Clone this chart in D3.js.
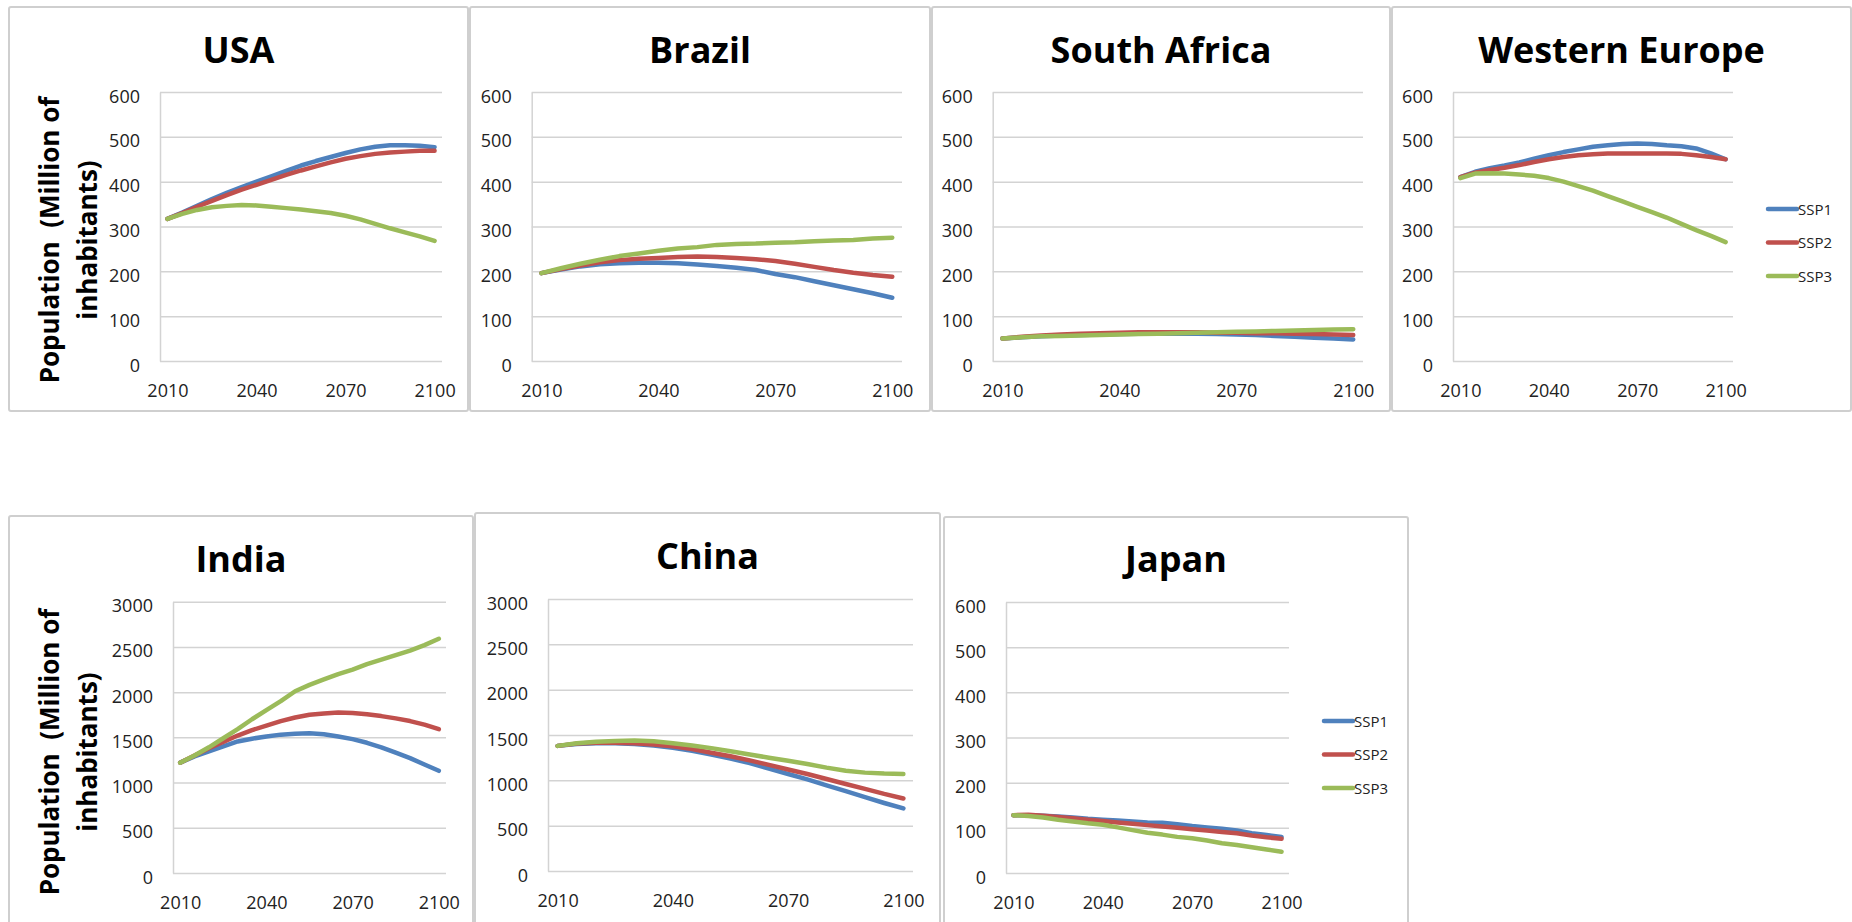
<!DOCTYPE html>
<html><head><meta charset="utf-8">
<script src="https://cdn.jsdelivr.net/npm/d3@7"></script>
<style>
body{margin:0;background:#fff;}
svg{display:block;font-family:"Open Sans",sans-serif;}
</style></head><body>
<svg id="c" width="1852" height="922"></svg>
<script>
// ---------- data ----------
const years = [2010,2015,2020,2025,2030,2035,2040,2045,2050,2055,2060,2065,2070,2075,2080,2085,2090,2095,2100];
const xTickLabels = [2010,2040,2070,2100];
const yTicksSmall = [0,100,200,300,400,500,600];
const yTicksLarge = [0,500,1000,1500,2000,2500,3000];
const seriesNames = ["SSP1","SSP2","SSP3"];
const seriesColors = ["#4F81BD","#C0504D","#9BBB59"];
const countries = ["USA","Brazil","South Africa","Western Europe","India","China","Japan"];
const yAxisTitle = ["Population  (Million of","inhabitants)"];

const usaSSP1 = [317,331,346,361,375,388,400,412,424,436,446,455,464,472,478,481,481,480,477];
const usaSSP2 = [317,330,344,357,370,382,393,404,415,425,434,443,451,457,462,465,467,469,469];
const usaSSP3 = [317,328,337,343,346,348,347,344,341,338,334,330,324,316,306,296,287,278,268];

const brazilSSP1 = [196,204,211,216,218,219,219,218,215,212,208,203,194,187,178,169,160,151,141];
const brazilSSP2 = [196,205,213,220,225,228,230,232,233,232,230,227,223,217,210,203,197,192,188];
const brazilSSP3 = [196,207,217,226,234,240,246,251,254,259,261,262,264,265,267,269,270,273,275];

const safricaSSP1 = [50,53,55,57,58,59,60,61,61,61,61,60,59,58,56,54,52,50,48];
const safricaSSP2 = [50,54,57,59,61,62,63,64,64,64,64,63,63,62,62,61,60,59,58];
const safricaSSP3 = [50,53,55,56,57,58,59,60,61,62,63,64,65,66,67,68,69,70,71];

const weuropeSSP1 = [410,422,430,436,443,451,459,466,472,478,481,484,485,484,481,479,474,463,450];
const weuropeSSP2 = [410,420,426,431,437,444,450,455,459,461,463,463,463,463,463,462,459,455,450];
const weuropeSSP3 = [408,418,419,418,416,413,408,400,390,380,368,356,344,332,320,306,292,279,265];

const indiaSSP1 = [1220,1290,1345,1400,1455,1485,1510,1530,1540,1545,1535,1510,1480,1440,1390,1330,1270,1200,1130];
const indiaSSP2 = [1220,1300,1380,1450,1520,1580,1630,1680,1720,1750,1765,1775,1770,1755,1735,1710,1680,1640,1590];
const indiaSSP3 = [1220,1300,1390,1490,1590,1700,1800,1900,2010,2080,2140,2200,2250,2310,2360,2410,2460,2520,2590];

const chinaSSP1 = [1380,1400,1408,1408,1400,1385,1360,1325,1285,1240,1190,1130,1070,1010,945,880,815,750,690];
const chinaSSP2 = [1380,1405,1415,1415,1410,1395,1375,1345,1305,1265,1220,1170,1120,1070,1015,960,905,850,800];
const chinaSSP3 = [1380,1410,1425,1435,1440,1430,1410,1385,1355,1320,1285,1250,1215,1180,1140,1105,1085,1075,1070];

const japanSSP1 = [128,128,127,125,123,120,118,116,114,112,111,108,104,101,98,94,88,84,80];
const japanSSP2 = [128,129,127,124,121,118,115,112,109,106,103,100,97,94,91,88,83,79,76];
const japanSSP3 = [128,126,123,118,114,110,107,101,95,89,85,80,77,72,66,62,57,52,47];

const countrySeries = [
  [usaSSP1,usaSSP2,usaSSP3],
  [brazilSSP1,brazilSSP2,brazilSSP3],
  [safricaSSP1,safricaSSP2,safricaSSP3],
  [weuropeSSP1,weuropeSSP2,weuropeSSP3],
  [indiaSSP1,indiaSSP2,indiaSSP3],
  [chinaSSP1,chinaSSP2,chinaSSP3],
  [japanSSP1,japanSSP2,japanSSP3]
];
const countryTicks = [yTicksSmall,yTicksSmall,yTicksSmall,yTicksSmall,yTicksLarge,yTicksLarge,yTicksSmall];

// ---------- layout ----------
const layout = [
  {box:[9,7,468,411],  plot:[160,92,442,361],    title:63,  ytitle:240},
  {box:[470,7,930,411], plot:[531.7,92,902,361], title:63},
  {box:[932,7,1390,411], plot:[992.7,92,1363,361], title:63},
  {box:[1392,7,1851,411], plot:[1453,92,1733,361], title:63, legend:[1768,209]},
  {box:[9,516,473,940], plot:[173,601.7,446,873], title:572, ytitle:752},
  {box:[475,513,940,940], plot:[548,599,913,871], title:569},
  {box:[944,517,1408,940], plot:[1006,602,1289,873], title:572, legend:[1324,721]}
];

const svg = d3.select("#c");
const gridColor = "#d3d3d3";

countries.forEach((name, ci) => {
  const L = layout[ci];
  const [bx0,by0,bx1,by1] = L.box;
  const [px0,py0,px1,py1] = L.plot;
  const g = svg.append("g");
  g.append("rect").attr("x",bx0).attr("y",by0).attr("width",bx1-bx0).attr("height",by1-by0)
    .attr("rx",2).attr("fill","#fff").attr("stroke","#cfcfcf").attr("stroke-width",2);

  const yt = countryTicks[ci];
  const x = d3.scalePoint().domain(years).range([px0,px1]).padding(0.5);
  const y = d3.scaleLinear().domain([0, d3.max(yt)]).range([py1,py0]);

  // y axis + gridlines
  const ya = g.append("g").attr("transform",`translate(${px0},0)`)
    .call(d3.axisLeft(y).tickValues(yt).tickFormat(d3.format("d"))
      .tickSize(-(px1-px0)).tickSizeOuter(0).tickPadding(20));
  ya.select(".domain").attr("stroke",gridColor).attr("stroke-width",1.5);
  ya.selectAll(".tick line").attr("stroke",gridColor).attr("stroke-width",1.5);
  ya.selectAll(".tick text").attr("dy",10).attr("fill","#222")
    .style("font-size","18px").style("font-family","'Open Sans',sans-serif");

  // x axis labels
  const xa = g.append("g").attr("transform",`translate(0,${py1})`)
    .call(d3.axisBottom(x).tickValues(xTickLabels).tickFormat(d3.format("d")).tickSize(0).tickPadding(0));
  xa.select(".domain").remove();
  xa.selectAll(".tick text").attr("y",36).attr("dy",0).attr("fill","#222")
    .style("font-size","18px").style("font-family","'Open Sans',sans-serif");

  // lines
  const line = d3.line().x((d,i)=>x(years[i])).y(d=>y(d));
  countrySeries[ci].forEach((vals, si) => {
    g.append("path").datum(vals).attr("d",line).attr("fill","none")
      .attr("stroke",seriesColors[si]).attr("stroke-width",4.5)
      .attr("stroke-linecap","round").attr("stroke-linejoin","round");
  });

  // title
  g.append("text").attr("x",(bx0+bx1)/2).attr("y",L.title).attr("text-anchor","middle")
    .style("font-size","36px").style("font-weight","bold").attr("fill","#000").text(name);

  // y title
  if (L.ytitle !== undefined) {
    const t = g.append("text").attr("transform",`translate(59,${L.ytitle}) rotate(-90)`)
      .attr("text-anchor","middle").style("font-size","26px").style("font-weight","bold").attr("fill","#000");
    t.append("tspan").attr("x",0).attr("y",0).attr("xml:space","preserve").text(yAxisTitle[0]);
    t.append("tspan").attr("x",0).attr("y",38).text(yAxisTitle[1]);
  }

  // legend
  if (L.legend) {
    const [lx,ly] = L.legend;
    seriesNames.forEach((s, si) => {
      const yy = ly + si*33.5;
      g.append("line").attr("x1",lx).attr("x2",lx+29).attr("y1",yy).attr("y2",yy)
        .attr("stroke",seriesColors[si]).attr("stroke-width",4.5).attr("stroke-linecap","round");
      g.append("text").attr("x",lx+30).attr("y",yy+5.5).style("font-size","15px").attr("fill","#222").text(s);
    });
  }
});
</script>
</body></html>
